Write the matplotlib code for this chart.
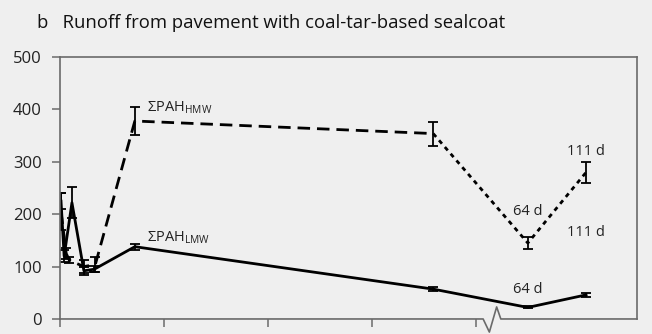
import matplotlib
matplotlib.use("Agg")
import matplotlib.pyplot as plt
from matplotlib.lines import Line2D

font = "Open Sans"
plt.rcParams["mathtext.fontset"] = "custom"
plt.rcParams["mathtext.rm"] = font
plt.rcParams["mathtext.it"] = font + ":italic"
plt.rcParams["mathtext.bf"] = font + ":bold"

# Sampling times on the (broken) time axis, in axis units
hmw_x = [0.01, 0.06, 0.09, 0.23, 0.34, 0.72, 3.59, 4.5, 5.06]
hmw_y = [205, 125, 112, 100, 104, 378, 354, 145, 280]
hmw_err = [35, 10, 6, 12, 14, 26, 23, 11, 20]

lmw_x = [0.01, 0.04, 0.115, 0.23, 0.33, 0.72, 3.59, 4.5, 5.06]
lmw_y = [225, 120, 222, 92, 95, 138, 57, 22, 46]
lmw_err = [15, 12, 30, 8, 6, 6, 4, 2, 4]

y_ticks = [0, 100, 200, 300, 400, 500]
x_ticks = [0, 1, 2, 3, 4]

title = "b   Runoff from pavement with coal-tar-based sealcoat"
day_labels = ["64 d", "111 d"]

bg = "#efefef"
frame = "#6a6a6a"
txt = "#222222"

fig = plt.figure(figsize=(6.52, 3.34), dpi=100, facecolor=bg)
ax = fig.add_axes([0.092, 0.045, 0.885, 0.784], facecolor=bg)

# ΣPAH HMW: dashed up to the last early-period point, dotted afterwards
ax.plot(hmw_x[:7], hmw_y[:7], color="black", lw=2.0, ls=(0, (4.5, 2.5)))
ax.plot(hmw_x[6:], hmw_y[6:], color="black", lw=2.0, ls=(0, (1.6, 1.6)))
ax.errorbar(hmw_x, hmw_y, yerr=hmw_err, fmt="none", ecolor="black",
            elinewidth=1.3, capsize=3.5, capthick=1.3)

# ΣPAH LMW: solid line
ax.plot(lmw_x, lmw_y, color="black", lw=2.0)
ax.errorbar(lmw_x, lmw_y, yerr=lmw_err, fmt="none", ecolor="black",
            elinewidth=1.3, capsize=3.5, capthick=1.3)

ax.set_xlim(0, 5.55)
ax.set_ylim(0, 500)
ax.set_yticks(y_ticks)
ax.set_xticks(x_ticks)
ax.set_xticklabels([])
ax.set_yticklabels([str(v) for v in y_ticks], fontsize=12, family=font, color=txt)
ax.tick_params(axis="both", direction="out", length=6, width=1.1, color=frame, pad=7)

for side in ("left", "right", "top"):
    ax.spines[side].set_color(frame)
    ax.spines[side].set_linewidth(1.2)
ax.spines["bottom"].set_visible(False)

# Bottom axis with a zigzag break between the two time periods
bx = [0, 4.07, 4.13, 4.2, 4.24, 5.55]
by = [0, 0, -25, 23, 0, 0]
ax.add_line(Line2D(bx, by, color=frame, lw=1.2, clip_on=False))

# Series labels
ax.text(0.84, 396, r"$\Sigma$PAH$_{\mathregular{HMW}}$", fontsize=10.5, family=font,
        va="baseline", ha="left", color=txt)
ax.text(0.84, 147, r"$\Sigma$PAH$_{\mathregular{LMW}}$", fontsize=10.5, family=font,
        va="baseline", ha="left", color=txt)

# Day labels above the later points
ax.text(4.5, 206, day_labels[0], fontsize=10.5, family=font, ha="center", va="center", color=txt)
ax.text(4.5, 57, day_labels[0], fontsize=10.5, family=font, ha="center", va="center", color=txt)
ax.text(5.06, 320, day_labels[1], fontsize=10.5, family=font, ha="center", va="center", color=txt)
ax.text(5.06, 166, day_labels[1], fontsize=10.5, family=font, ha="center", va="center", color=txt)

fig.text(37 / 652, 1 - 23 / 334, title, fontsize=13.3, family=font,
         ha="left", va="center", color="#111111")

fig.savefig("out.png", dpi=100, facecolor=bg)
